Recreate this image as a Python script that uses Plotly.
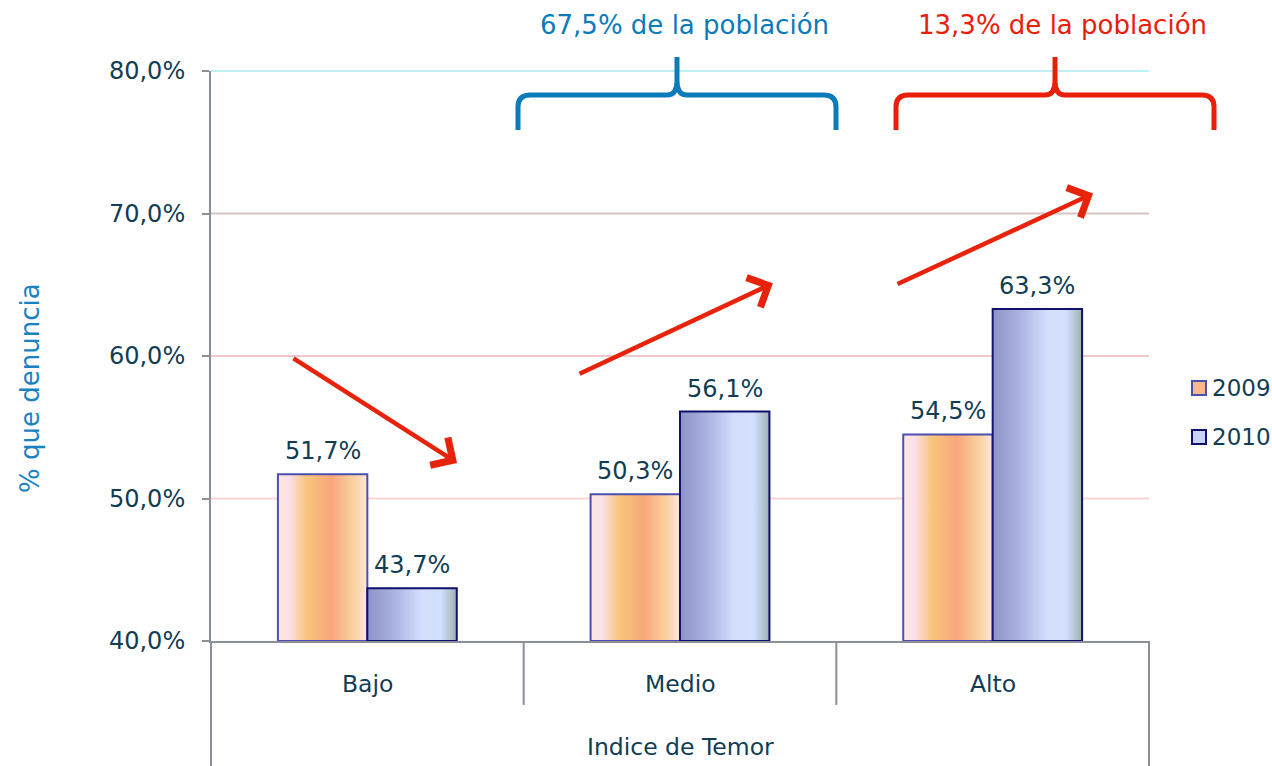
import plotly.graph_objects as go

# ---------------- data ----------------
categories = ["Bajo", "Medio", "Alto"]
years = ["2009", "2010"]
values_2009 = [51.7, 50.3, 54.5]
values_2010 = [43.7, 56.1, 63.3]
y_ticks = [40, 50, 60, 70, 80]
axis_title_x = "Indice de Temor"
axis_title_y = "% que denuncia"
bracket_texts = ["67,5% de la población", "13,3% de la población"]
# arrows: (x_tail, y_tail, x_head, y_head) in data units
arrows = [(-0.241, 59.9, 0.287, 52.5),
          (0.674, 58.7, 1.297, 65.1),
          (1.691, 65.0, 2.321, 71.4)]

# ---------------- style ----------------
W, H = 1272, 766
ML, MR, MT, MB = 211, 123, 71, 125
PW, PH = W - ML - MR, H - MT - MB
FONT = "DejaVu Sans"
TXT = "#113d54"
AXC = "#8a8f99"
grid_colors = {50: "#fcd3d3", 60: "#efc9c9", 70: "#d6c4c2", 80: "#bfeef3"}
bar_w = 0.286
ymin, ymax = y_ticks[0], y_ticks[-1]

grad_2009 = [[0.0, "#fde9dc"], [0.12, "#fbe1ec"], [0.32, "#f8c57a"],
             [0.6, "#f9a77b"], [0.85, "#f9d29f"], [1.0, "#fde6de"]]
grad_2010 = [[0.0, "#8d93c7"], [0.3, "#aab2e0"], [0.6, "#d3ddfc"],
             [0.82, "#d4e0ff"], [0.92, "#b7c6d6"], [1.0, "#9db2aa"]]
styles = {
    "2009": dict(grad=grad_2009, line="#4a4fb0", legend="#f9b98a", offset=-1),
    "2010": dict(grad=grad_2010, line="#10106e", legend="#c9d3f6", offset=0),
}


def fmt(v):
    return f"{v:.1f}".replace(".", ",") + "%"


def px2p(px, py):
    return (px - ML) / PW, (MT + PH - py) / PH


fig = go.Figure()

series = {"2009": values_2009, "2010": values_2010}
annotations = []
for yr in years:
    st = styles[yr]
    for i, v in enumerate(series[yr]):
        x0 = i + st["offset"] * bar_w
        x1 = x0 + bar_w
        fig.add_trace(go.Scatter(
            x=[x0, x0, x1, x1, x0], y=[ymin, v, v, ymin, ymin],
            mode="lines", fill="toself",
            fillgradient=dict(type="horizontal", colorscale=st["grad"]),
            line=dict(color=st["line"], width=2),
            showlegend=False, hoverinfo="skip"))
        annotations.append(dict(
            x=(x0 + x1) / 2, y=v, xref="x", yref="y", text=fmt(v),
            showarrow=False, xanchor="center", yanchor="middle", yshift=23,
            font=dict(family=FONT, size=24, color=TXT)))

shapes = []
# gridlines
for t in y_ticks[1:]:
    yp = (t - ymin) / (ymax - ymin)
    shapes.append(dict(type="line", xref="paper", yref="paper", x0=0, x1=1,
                       y0=yp, y1=yp, layer="below",
                       line=dict(color=grid_colors[t], width=2)))

# category dividers & frame below axis
n = len(categories)
div_bottom = -64 / PH
frame_bottom = -(MB + 2) / PH
for k in range(1, n):
    xp = k / n
    shapes.append(dict(type="line", xref="paper", yref="paper", x0=xp, x1=xp,
                       y0=0, y1=div_bottom, line=dict(color=AXC, width=2)))
for xp in (0, 1):
    shapes.append(dict(type="line", xref="paper", yref="paper", x0=xp, x1=xp,
                       y0=0, y1=frame_bottom, line=dict(color=AXC, width=2)))

# category labels
for i, c in enumerate(categories):
    annotations.append(dict(x=i, y=-43 / PH, xref="x", yref="paper", text=c,
                            showarrow=False, xanchor="center", yanchor="middle",
                            font=dict(family=FONT, size=23.5, color=TXT)))
annotations.append(dict(x=0.5, y=-106 / PH, xref="paper", yref="paper",
                        text=axis_title_x, showarrow=False, xanchor="center",
                        yanchor="middle",
                        font=dict(family=FONT, size=23.5, color=TXT)))
# y title
annotations.append(dict(x=(30 - ML) / PW, y=px2p(0, 388)[1], xref="paper",
                        yref="paper", text=axis_title_y, showarrow=False,
                        textangle=-90, xanchor="center", yanchor="middle",
                        font=dict(family=FONT, size=26, color="#1a82c0")))

# manual legend
for k, yr in enumerate(years):
    st = styles[yr]
    cy = 388 + 49 * k
    xa, ya = px2p(1192, cy - 7)
    xb, yb = px2p(1206, cy + 7)
    shapes.append(dict(type="rect", xref="paper", yref="paper",
                       x0=xa, x1=xb, y0=yb, y1=ya, fillcolor=st["legend"],
                       line=dict(color=st["line"], width=2)))
    annotations.append(dict(x=px2p(1210, 0)[0], y=px2p(0, cy)[1],
                            xref="paper", yref="paper", text=yr,
                            showarrow=False, xanchor="left", yanchor="middle",
                            font=dict(family=FONT, size=23, color=TXT)))


# braces
def brace(x0, x1, xc, color):
    ybar, ytip, yend, r = 95, 57, 130, 12
    pts = [("M", [(x0, yend)]), ("L", [(x0, ybar + r)]),
           ("Q", [(x0, ybar), (x0 + r, ybar)]), ("L", [(xc - 10, ybar)]),
           ("Q", [(xc, ybar), (xc, ybar - 14)]), ("L", [(xc, ytip)]),
           ("L", [(xc, ybar - 14)]), ("Q", [(xc, ybar), (xc + 10, ybar)]),
           ("L", [(x1 - r, ybar)]), ("Q", [(x1, ybar), (x1, ybar + r)]),
           ("L", [(x1, yend)])]
    path = ""
    for cmd, ps in pts:
        path += cmd + " ".join(f"{px2p(a, b)[0]:.5f},{px2p(a, b)[1]:.5f}" for a, b in ps) + " "
    return dict(type="path", xref="paper", yref="paper", path=path.strip(),
                line=dict(color=color, width=5))


shapes.append(brace(518, 836, 677, "#0b7bb9"))
shapes.append(brace(896, 1214, 1055, "#e8200a"))
annotations.append(dict(x=px2p(684, 0)[0], y=px2p(0, 25)[1], xref="paper",
                        yref="paper", text=bracket_texts[0], showarrow=False,
                        xanchor="center", yanchor="middle",
                        font=dict(family=FONT, size=26, color="#0b7bb9")))
annotations.append(dict(x=px2p(1062, 0)[0], y=px2p(0, 25)[1], xref="paper",
                        yref="paper", text=bracket_texts[1], showarrow=False,
                        xanchor="center", yanchor="middle",
                        font=dict(family=FONT, size=26, color="#e8200a")))

# arrows
for xt, yt, xh, yh in arrows:
    annotations.append(dict(x=xh, y=yh, ax=xt, ay=yt, xref="x", yref="y",
                            axref="x", ayref="y", text="", showarrow=True,
                            arrowhead=4, arrowsize=1.4, arrowwidth=4.5,
                            arrowcolor="#e8230b", standoff=0))

fig.update_layout(
    width=W, height=H, autosize=False,
    margin=dict(l=ML, r=MR, t=MT, b=MB, autoexpand=False),
    paper_bgcolor="white", plot_bgcolor="white",
    showlegend=False,
    font=dict(family=FONT, color=TXT),
    xaxis=dict(range=[-0.5, n - 0.5], showgrid=False, zeroline=False,
               showticklabels=False, ticks="", showline=True,
               linecolor=AXC, linewidth=2, automargin=False),
    yaxis=dict(range=[ymin, ymax], tickmode="array", tickvals=y_ticks,
               ticktext=[fmt(t) for t in y_ticks], showgrid=False,
               zeroline=False, automargin=False,
               showline=True, linecolor=AXC, linewidth=2,
               ticks="outside", ticklen=7, tickwidth=2, tickcolor=AXC,
               ticklabelstandoff=12,
               tickfont=dict(family=FONT, size=24, color=TXT)),
    shapes=shapes, annotations=annotations,
)

fig.write_html("out.html", config={"displayModeBar": False},
               post_script="document.body.style.margin='0px';"
                           "document.body.style.overflow='hidden';")
